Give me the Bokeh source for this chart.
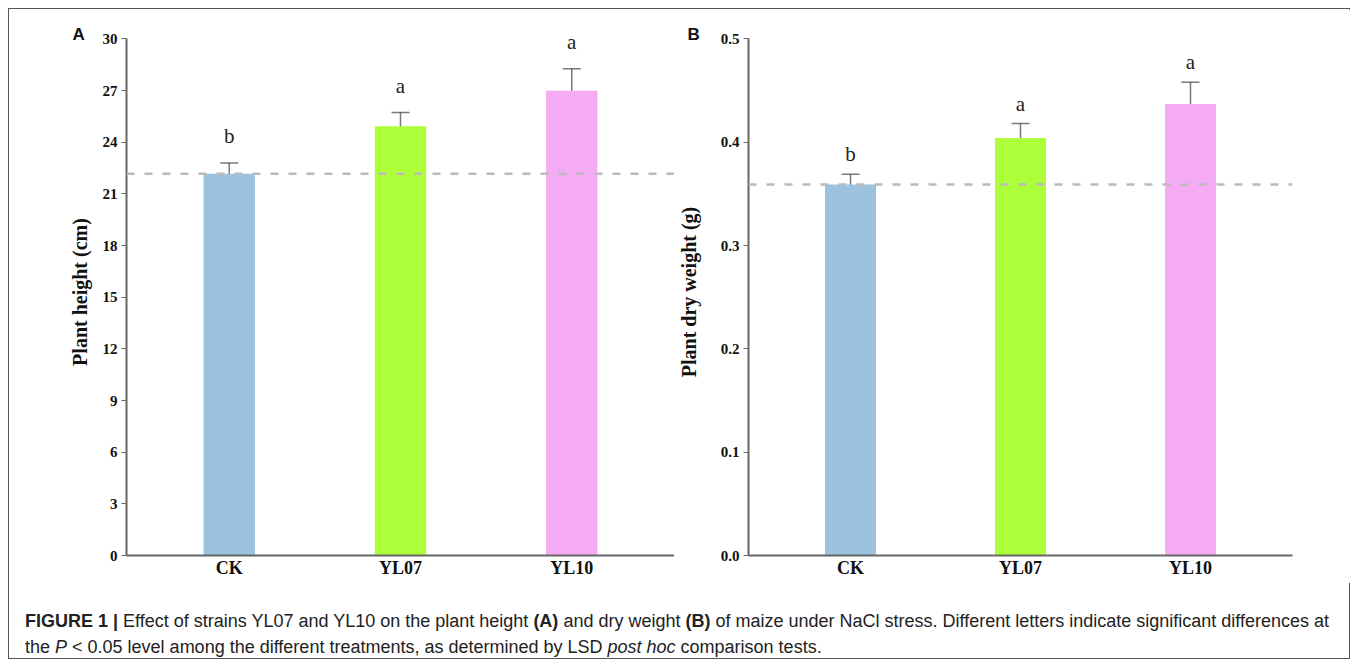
from bokeh.plotting import figure
from bokeh.models import (ColumnDataSource, Range1d, FixedTicker, Whisker, TeeHead,
                          Span, Div, NumeralTickFormatter)
from bokeh.layouts import row, column
from bokeh.embed import file_html
from bokeh.resources import INLINE
from bokeh.core.properties import value

# ---- data ----
categories = ["CK", "YL07", "YL10"]
colors = ["#9BC2DE", "#ADFF3A", "#F4ABF4"]
height_mean = [22.17, 24.93, 26.98]
height_err = [0.62, 0.79, 1.29]
height_letters = ["b", "a", "a"]
weight_mean = [0.359, 0.404, 0.437]
weight_err = [0.010, 0.014, 0.021]
weight_letters = ["b", "a", "a"]
height_ticks = [0, 3, 6, 9, 12, 15, 18, 21, 24, 27, 30]
weight_ticks = [0.0, 0.1, 0.2, 0.3, 0.4, 0.5]

SERIF = "Liberation Serif"
SANS = "Liberation Sans"


def panel(means, errs, letters, ticks, ymax, ylabel, tag, fmt, width,
          border_left, border_right, letter_gap, tag_dx, label_standoff):
    xs = list(range(len(categories)))
    src = ColumnDataSource(dict(
        x=xs, top=means, color=colors,
        upper=[m + e for m, e in zip(means, errs)],
        lower=[m - e for m, e in zip(means, errs)],
        letter=letters))
    p = figure(width=width, height=574, x_range=Range1d(-0.6, 2.6),
               y_range=Range1d(0, ymax * 1.02), output_backend="svg",
               toolbar_location=None, min_border_left=border_left,
               min_border_right=border_right, min_border_top=19,
               min_border_bottom=28)
    p.outline_line_color = None
    p.grid.visible = False
    p.background_fill_color = "white"

    # panel tag (A / B) as the title, pulled down-left next to the y axis top
    p.title.text = tag
    p.title.align = "left"
    p.title.offset = tag_dx
    p.title.standoff = -31
    p.title.padding = (0, 0, 6, 0)
    p.title.text_font = SANS
    p.title.text_font_style = "bold"
    p.title.text_font_size = "17px"
    p.title.text_color = "#111111"

    p.vbar(x="x", top="top", width=0.3, bottom=0, color="color",
           line_color=None, source=src)

    p.add_layout(Span(location=means[0], dimension="width",
                      line_color="#BBBBBB", line_width=2.5,
                      line_dash="8 10"))

    wcol = "#333333"
    w = Whisker(base="x", upper="upper", lower="lower", source=src,
                line_color=wcol, line_alpha=0.65, line_width=1.5,
                upper_head=TeeHead(size=18, line_color=wcol, line_alpha=0.65,
                                   line_width=1.5),
                lower_head=TeeHead(size=18, line_color=wcol, line_alpha=0.65,
                                   line_width=1.5))
    p.add_layout(w)

    p.text(x="x", y="upper", text="letter", source=src,
           text_font=value(SERIF), text_font_size="21px",
           text_align="center", text_baseline="alphabetic",
           y_offset=-letter_gap, text_color="#222222")

    # axes
    xa = p.xaxis[0]
    xa.ticker = FixedTicker(ticks=xs)
    xa.major_label_overrides = {i: c for i, c in enumerate(categories)}
    xa.major_tick_out = 0
    xa.major_tick_in = 0
    xa.minor_tick_out = 0
    xa.minor_tick_in = 0
    xa.major_label_standoff = 2
    xa.axis_line_color = "#666666"
    xa.axis_line_width = 2
    xa.major_label_text_font = SERIF
    xa.major_label_text_font_style = "bold"
    xa.major_label_text_font_size = "18px"
    xa.major_label_text_color = "#111111"

    ya = p.yaxis[0]
    ya.bounds = (0, ymax)
    ya.ticker = FixedTicker(ticks=ticks)
    ya.formatter = NumeralTickFormatter(format=fmt)
    ya.major_tick_out = 5
    ya.major_tick_in = 0
    ya.minor_tick_out = 0
    ya.minor_tick_in = 0
    ya.major_tick_line_color = "#666666"
    ya.major_label_standoff = 4
    ya.axis_line_color = "#666666"
    ya.axis_line_width = 2
    ya.major_label_text_font = SERIF
    ya.major_label_text_font_style = "bold"
    ya.major_label_text_font_size = "15px"
    ya.major_label_text_color = "#111111"
    ya.axis_label = ylabel
    ya.axis_label_text_font = SERIF
    ya.axis_label_text_font_style = "bold"
    ya.axis_label_text_font_size = "20px"
    ya.axis_label_text_color = "#111111"
    ya.axis_label_standoff = label_standoff
    return p


pa = panel(height_mean, height_err, height_letters, height_ticks, 30,
           "Plant height (cm)", "A", "0", 665, 117, 0, 27, -54, 9)
pb = panel(weight_mean, weight_err, weight_letters, weight_ticks, 0.5,
           "Plant dry weight (g)", "B", "0.0", 677, 70, 59, 20, -61, 18)

caption_html = (
    '<div style="padding:25px 0 0 16px; font-family:\'Liberation Sans\', Arial, sans-serif; '
    'font-size:18px; line-height:26px; color:#222; white-space:nowrap;">'
    '<b>FIGURE 1 |</b> Effect of strains YL07 and YL10 on the plant height <b>(A)</b> '
    'and dry weight <b>(B)</b> of maize under NaCl stress. Different letters indicate '
    'significant differences at<br>the <i>P</i> &lt; 0.05 level among the different '
    'treatments, as determined by LSD <i>post hoc</i> comparison tests.</div>'
)
cap = Div(text=caption_html, width=1342, height=77, margin=(0, 0, 0, 0))

layout = column(row(pa, pb), cap, width=1342, height=651,
                styles={"border": "1px solid #555555", "margin": "8px 8px 0 8px"})

open("out.html", "w").write(file_html(layout, INLINE))
